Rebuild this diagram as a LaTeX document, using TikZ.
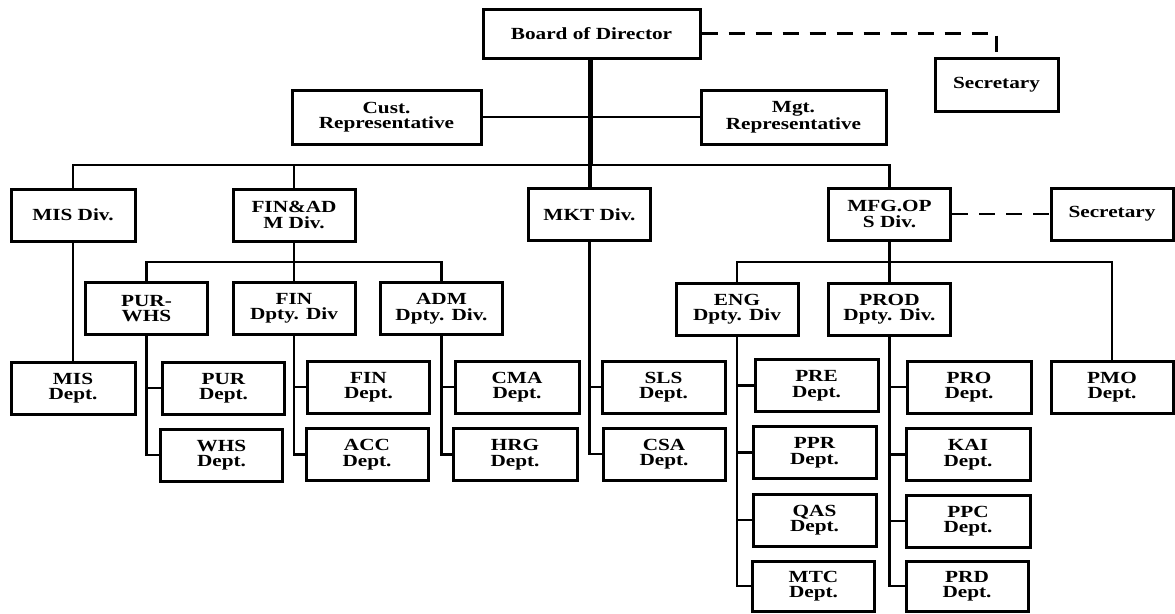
\documentclass[tikz,border=0pt]{standalone}
\usepackage{fontspec}
\newfontfamily\orgfont[FakeStretch=1.25]{Liberation Serif}
\begin{document}
\begin{tikzpicture}[x=1pt,y=-1pt,
  box/.style={draw=black,line width=3pt,minimum width=122pt,minimum height=52pt,inner sep=0pt,
    align=center,font=\orgfont\bfseries\fontsize{17}{15.5}\selectfont},
  conn/.style={draw=black,line width=2.8pt},
  trunk/.style={draw=black,line width=5pt},
  dashline/.style={draw=black,line width=2.8pt,dash pattern=on 16pt off 11pt}]
\useasboundingbox (0,0) rectangle (1175,613);
% top level
\node[box,minimum width=217pt,minimum height=49pt] (board) at (591.5,33.5) {Board of Director};
\node[box,minimum width=123pt,minimum height=53pt] (sec1) at (996.5,84.5) {Secretary};
\node[box,minimum width=189pt,minimum height=54pt] (cust) at (386.5,117) {Cust.\\Representative};
\node[box,minimum width=185pt,minimum height=54pt] (mgt) at (793.5,117) {Mgt.\\Representative};
% divisions
\node[box,minimum width=124pt] (misdiv) at (73,215) {MIS Div.};
\node[box] (findiv) at (294,215) {FIN\&AD\\M Div.};
\node[box] (mktdiv) at (589.5,214.5) {MKT Div.};
\node[box] (mfgdiv) at (889.5,214) {MFG.OP\\S Div.};
\node[box] (sec2) at (1112,214) {Secretary};
% deputy divisions
\node[box] (purwhs) at (146.5,308.5) {PUR-\\WHS};
\node[box] (findp) at (294,308.5) {FIN\\Dpty. Div};
\node[box] (admdp) at (441.5,308.5) {ADM\\Dpty. Div.};
\node[box] (engdp) at (737,309) {ENG\\Dpty. Div};
\node[box] (proddp) at (889.5,309) {PROD\\Dpty. Div.};
% departments
\node[box,minimum width=124pt] (misdept) at (73,388) {MIS\\Dept.};
\node[box] (pur) at (223.5,388) {PUR\\Dept.};
\node[box] (whs) at (221.5,455) {WHS\\Dept.};
\node[box] (fin) at (368.5,387) {FIN\\Dept.};
\node[box] (acc) at (367,454.5) {ACC\\Dept.};
\node[box,minimum width=124pt] (cma) at (517,387) {CMA\\Dept.};
\node[box,minimum width=124pt] (hrg) at (515,454.5) {HRG\\Dept.};
\node[box,minimum width=123pt] (sls) at (663.5,387) {SLS\\Dept.};
\node[box] (csa) at (664,454) {CSA\\Dept.};
\node[box,minimum width=123pt] (pre) at (816.5,385.5) {PRE\\Dept.};
\node[box,minimum width=123pt] (ppr) at (814.5,452.5) {PPR\\Dept.};
\node[box,minimum width=123pt] (qas) at (814.5,520) {QAS\\Dept.};
\node[box,minimum height=50pt] (mtc) at (813.5,586) {MTC\\Dept.};
\node[box,minimum width=124pt] (pro) at (969,387) {PRO\\Dept.};
\node[box,minimum width=124pt] (kai) at (968,454.5) {KAI\\Dept.};
\node[box,minimum width=124pt] (ppc) at (968,521) {PPC\\Dept.};
\node[box,minimum height=50pt] (prd) at (967,586) {PRD\\Dept.};
\node[box] (pmo) at (1112,387) {PMO\\Dept.};
% bus coordinates
\coordinate (bus) at (590,165);
\coordinate (bus2) at (294,262);
\coordinate (bus3) at (889.5,262);
% top connectors
\draw[trunk] (bus |- board.south) -- (bus);
\draw[conn] (cust.east) -- (mgt.west);
\draw[conn] (misdiv.north) |- (bus) -| (mfgdiv.north);
\draw[conn] (findiv.north) |- (bus);
\draw[conn,line width=3.4pt] (bus) -- (bus |- mktdiv.north);
\draw[dashline] (board.east) -| (sec1.north);
\draw[dashline] (mfgdiv.east) -- (sec2.west);
% FIN&ADM branch
\draw[conn] (misdiv.south) -- (misdept.north);
\draw[conn] (findiv.south) -- (findp.north);
\draw[conn] (purwhs.north) |- (bus2) -| (admdp.north);
\draw[conn] (purwhs.south) |- (pur.west);
\draw[conn] (purwhs.south) |- (whs.west);
\draw[conn] (findp.south) |- (fin.west);
\draw[conn] (findp.south) |- (acc.west);
\draw[conn] (admdp.south) |- (cma.west);
\draw[conn] (admdp.south) |- (hrg.west);
% MKT
\draw[conn] (mktdiv.south) |- (sls.west);
\draw[conn] (mktdiv.south) |- (csa.west);
% MFG
\draw[conn] (mfgdiv.south) -- (proddp.north);
\draw[conn] (engdp.north) |- (bus3) -| (pmo.north);
\draw[conn] (engdp.south) |- (pre.west);
\draw[conn] (engdp.south) |- (ppr.west);
\draw[conn] (engdp.south) |- (qas.west);
\draw[conn] (engdp.south) |- (mtc.west);
\draw[conn] (proddp.south) |- (pro.west);
\draw[conn] (proddp.south) |- (kai.west);
\draw[conn] (proddp.south) |- (ppc.west);
\draw[conn] (proddp.south) |- (prd.west);
\end{tikzpicture}
\end{document}
